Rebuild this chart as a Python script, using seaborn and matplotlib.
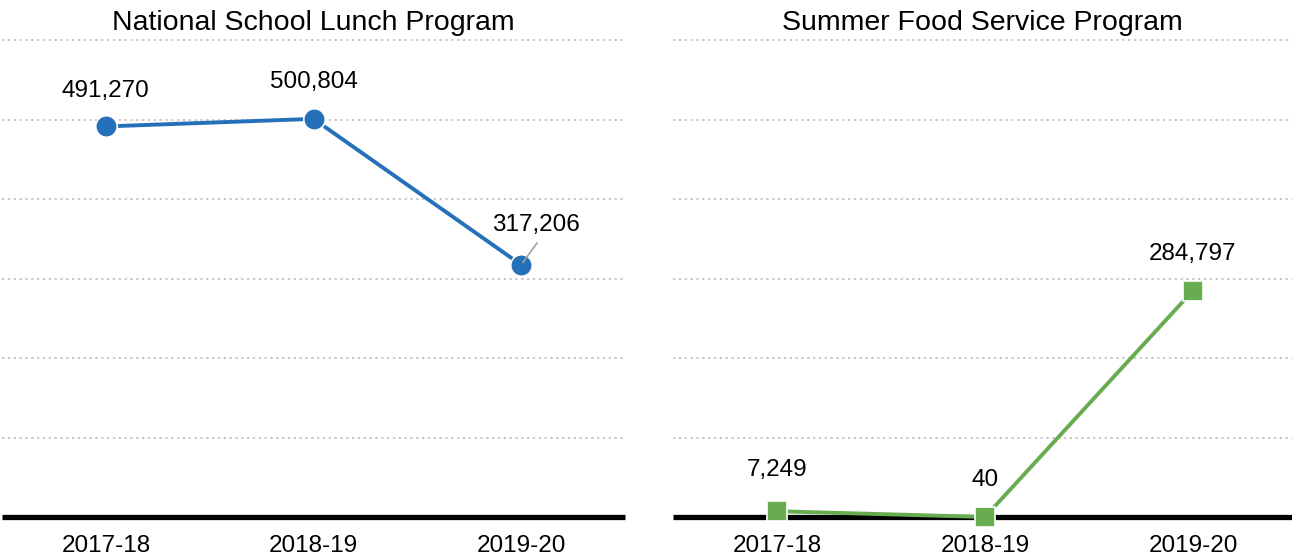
import matplotlib
matplotlib.use('Agg')
import matplotlib.pyplot as plt
import seaborn as sns
import pandas as pd

years = ['2017-18', '2018-19', '2019-20']
nslp = [491270, 500804, 317206]
sfsp = [7249, 40, 284797]
titles = ['National School Lunch Program', 'Summer Food Service Program']

sns.set_theme(style='white')
plt.rcParams['font.family'] = ['Liberation Sans', 'DejaVu Sans']

fig = plt.figure(figsize=(12.92, 5.59), dpi=100)
bottom = (559 - 517) / 559
height = (517 - 40) / 559
ax1 = fig.add_axes([2 / 1292, bottom, 623 / 1292, height])
ax2 = fig.add_axes([673 / 1292, bottom, 619 / 1292, height])

# label offsets in pixels (dx, dy) relative to each point
offsets = [
    [(0, 35), (0, 37), (15, 40)],
    [(0, 41), (0, 37), (0, 37)],
]

series = [(nslp, '#2570b8', 'o'), (sfsp, '#67ad4f', 's')]

for i, (ax, (vals, col, mk)) in enumerate(zip([ax1, ax2], series)):
    df = pd.DataFrame({'year': years, 'value': vals})
    ax.set_xlim(-0.5, 2.5 if i == 0 else (619 / 208 - 0.5))
    ax.set_ylim(0, 600000)
    for y in range(100000, 700000, 100000):
        ax.axhline(y, color='#c8c8c8', lw=1.4, ls=(0, (1.2, 1.8)), zorder=0, clip_on=False)
    ax.axhline(0, color='black', lw=3.8, zorder=1, clip_on=False, solid_capstyle='butt')
    sns.lineplot(data=df, x='year', y='value', ax=ax, color=col, lw=2.8,
                 marker=mk, markersize=15.5 if mk == 'o' else 14.5,
                 markeredgecolor='white', markeredgewidth=1.2,
                 sort=False, clip_on=False, zorder=3)
    for j, v in enumerate(vals):
        dx, dy = offsets[i][j]
        ax.annotate(f'{v:,}', xy=(j, v), xytext=(dx * 0.72, dy * 0.72),
                    textcoords='offset points', ha='center', va='center',
                    fontsize=17.5, color='black')
    ax.set_title(titles[i], fontsize=20.5, pad=7, color='black')
    ax.set_xlabel('')
    ax.set_ylabel('')
    ax.set_yticks([])
    ax.set_xticks(range(3))
    ax.set_xticklabels(years, fontsize=17.5, color='black')
    ax.tick_params(axis='x', length=0, pad=13)
    for s in ax.spines.values():
        s.set_visible(False)

# leader line for the 317,206 label, drawn over the marker
ax1.annotate('', xy=(2, nslp[2]), xytext=(16 * 0.72, 22 * 0.72), textcoords='offset points',
             arrowprops=dict(arrowstyle='-', color='#a0a0a0', lw=1.2, shrinkA=0, shrinkB=2),
             zorder=5)

fig.savefig('out.png', dpi=100)
